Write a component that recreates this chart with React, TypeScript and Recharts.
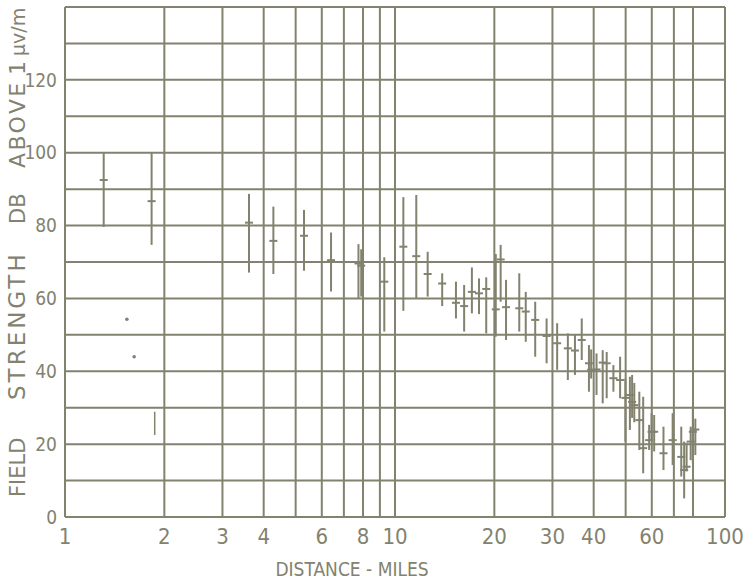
import React from "react";
import {
  ScatterChart,
  Scatter,
  XAxis,
  YAxis,
  CartesianGrid,
  ErrorBar,
} from "recharts";

// distance in miles, field strength in dB above 1 uV/m
const distances = [
  1.31, 1.83, 3.61, 4.28, 5.3, 6.4, 7.75, 7.9, 9.28, 10.6, 11.6, 12.56, 13.9,
  15.3, 16.2, 17.1, 17.97, 18.9, 20.2, 20.9, 21.7, 23.8, 24.9, 26.6, 28.8, 31.0,
  33.4, 35.1, 36.8, 38.7, 39.3, 40.8, 42.6, 43.8, 45.9, 48.1, 49.9, 51.5, 52.3,
  53.1, 55.0, 56.5, 58.9, 59.9, 61.0, 65.1, 69.4, 73.7, 75.2, 76.5, 78.7, 79.9,
  81.3,
];
const levels = [
  92.5, 86.7, 80.8, 75.8, 77.2, 70.5, 69.6, 69.0, 64.6, 74.2, 71.6, 66.7, 64.1,
  58.8, 57.9, 61.8, 61.4, 62.6, 57.0, 70.7, 57.6, 57.3, 56.4, 54.1, 49.7, 47.7,
  46.3, 45.7, 48.6, 42.2, 40.4, 40.5, 42.4, 42.2, 38.1, 37.6, 32.7, 33.5, 31.6,
  30.7, 26.6, 18.9, 21.1, 23.4, 23.4, 17.5, 21.1, 16.5, 12.9, 13.8, 20.7, 23.4,
  24.0,
];
const lows = [
  79.6, 74.7, 67.1, 66.7, 67.6, 61.9, 60.0, 60.5, 50.9, 56.6, 60.0, 60.5, 57.9,
  54.5, 50.9, 55.9, 55.7, 50.4, 49.5, 59.1, 48.6, 50.9, 48.1, 44.0, 42.2, 40.4,
  37.6, 39.0, 43.1, 34.4, 38.0, 33.5, 31.2, 32.6, 34.4, 32.6, 20.7, 23.9, 27.2,
  26.0, 18.4, 12.0, 18.4, 21.1, 18.0, 12.9, 14.3, 11.1, 5.1, 12.5, 15.6, 14.7,
  17.0,
];
const highs = [
  100, 100, 88.7, 85.2, 84.3, 78.1, 74.9, 73.5, 71.3, 87.8, 88.4, 72.8, 66.9,
  64.6, 63.7, 68.5, 65.5, 65.8, 72.2, 74.7, 65.1, 66.9, 61.8, 59.1, 54.5, 53.2,
  50.4, 50.0, 54.5, 47.2, 46.0, 44.9, 45.8, 45.3, 41.7, 44.0, 38.0, 38.5, 39.0,
  36.8, 34.4, 33.0, 25.3, 28.5, 28.0, 24.8, 28.5, 24.8, 20.7, 20.4, 24.8, 30.3,
  27.0,
];

// isolated readings with no range
const dotDistances = [1.54, 1.62];
const dotLevels = [54.3, 44.0];

// range with no median mark
const rangeDistances = [1.87];
const rangeLows = [22.5];
const rangeHighs = [28.9];

const xTicks = [1, 2, 3, 4, 5, 6, 7, 8, 9, 10, 20, 30, 40, 50, 60, 70, 80, 90, 100];
const xLabels = [1, 2, 3, 4, 6, 8, 10, 20, 30, 40, 60, 80, 100];
const yTicks = [0, 10, 20, 30, 40, 50, 60, 70, 80, 90, 100, 110, 120, 130, 140];
const yLabels = [0, 20, 40, 60, 80, 100, 120];

const INK = "#82826f";

const barData = distances.map((d, i) => ({
  x: d,
  y: levels[i],
  err: [levels[i] - lows[i], highs[i] - levels[i]],
}));
const dotData = dotDistances.map((d, i) => ({ x: d, y: dotLevels[i] }));
const rangeData = rangeDistances.map((d, i) => {
  const mid = (rangeLows[i] + rangeHighs[i]) / 2;
  return { x: d, y: mid, err: [mid - rangeLows[i], rangeHighs[i] - mid] };
});

const MedianTick = (props: any) => {
  const { cx, cy } = props;
  return (
    <line x1={cx - 4} x2={cx + 4} y1={cy} y2={cy} stroke={INK} strokeWidth={2} />
  );
};

const Dot = (props: any) => (
  <circle cx={props.cx} cy={props.cy} r={1.8} fill={INK} />
);

const Empty = () => <g />;

const XTitle = (props: any) => {
  const { x, y } = props.viewBox;
  return (
    <text
      x={x + 287}
      y={y + 59}
      textAnchor="middle"
      fill={INK}
      fontFamily="'DejaVu Sans Condensed', 'DejaVu Sans'"
      fontSize={19}
    >
      DISTANCE - MILES
    </text>
  );
};

// hand-lettered title: words spaced out unevenly along the axis
const YTitle = (props: any) => {
  const { x } = props.viewBox;
  const tx = x + 25;
  const ty = 497;
  return (
    <text
      x={tx}
      y={ty}
      transform={`rotate(-90, ${tx}, ${ty})`}
      textAnchor="start"
      fill={INK}
      fontFamily="'DejaVu Sans', sans-serif"
      fontSize={22}
    >
      <tspan x={tx} fontSize={21}>FIELD</tspan>
      <tspan x={tx + 97} fontSize={23} letterSpacing={3}>STRENGTH</tspan>
      <tspan x={tx + 273} fontSize={21}>DB</tspan>
      <tspan x={tx + 329} letterSpacing={2.4}>ABOVE</tspan>
      <tspan x={tx + 422}>1</tspan>
      <tspan x={tx + 441} fontSize={19}>μv/m</tspan>
    </text>
  );
};

const App: React.FC = () => {
  return (
    <div style={{ position: "absolute", left: 0, top: 0, background: "#ffffff" }}>
      <ScatterChart
        width={753}
        height={580}
        margin={{ top: 7, right: 28, left: 0, bottom: 0 }}
      >
        <CartesianGrid stroke={INK} strokeWidth={2} />
        <XAxis
          type="number"
          dataKey="x"
          scale="log"
          domain={[1, 100]}
          ticks={xTicks}
          allowDataOverflow
          height={63}
          axisLine={{ stroke: INK, strokeWidth: 2 }}
          tickLine={false}
          tickMargin={5}
          tick={{ fill: INK, fontSize: 22, fontFamily: "'DejaVu Sans Condensed', 'DejaVu Sans'" }}
          tickFormatter={(v: number) => (xLabels.includes(v) ? String(v) : "")}
          label={<XTitle />}
        />
        <YAxis
          type="number"
          dataKey="y"
          domain={[0, 140]}
          ticks={yTicks}
          allowDataOverflow
          width={65}
          axisLine={{ stroke: INK, strokeWidth: 2 }}
          tickLine={false}
          tick={{ fill: INK, fontSize: 19, fontFamily: "'Liberation Sans Narrow', 'DejaVu Sans Condensed'" }}
          tickFormatter={(v: number) => (yLabels.includes(v) ? String(v) : "")}
          label={<YTitle />}
        />
        <Scatter data={barData} shape={MedianTick} isAnimationActive={false}>
          <ErrorBar dataKey="err" direction="y" width={0} stroke={INK} strokeWidth={2} />
        </Scatter>
        <Scatter data={rangeData} shape={Empty} isAnimationActive={false}>
          <ErrorBar dataKey="err" direction="y" width={0} stroke={INK} strokeWidth={1.5} />
        </Scatter>
        <Scatter data={dotData} shape={Dot} isAnimationActive={false} />
      </ScatterChart>
    </div>
  );
};

export default App;
